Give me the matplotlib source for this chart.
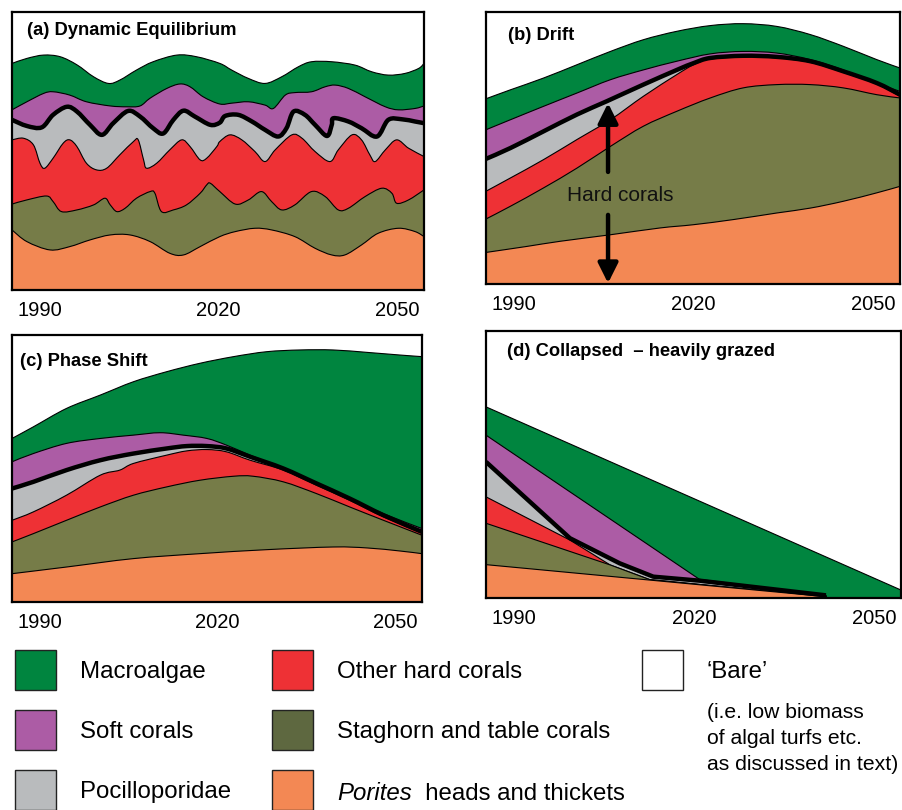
import numpy as np
import matplotlib
matplotlib.use('Agg')
import matplotlib.pyplot as plt
from matplotlib.patches import Rectangle, PathPatch
from matplotlib.path import Path

plt.rcParams['font.family'] = ['Liberation Sans', 'DejaVu Sans']

# ── data: cumulative cover (%) at the top of each layer, per year ──
YEARS_SHOWN = [1990, 2020, 2050]
X_RANGE = (1985.3, 2054.5)

LAYER_NAMES = ['Porites', 'Staghorn and table', 'Other hard corals',
               'Pocilloporidae', 'Soft corals', 'Macroalgae']

# (a) dynamic equilibrium
A_PORITES = [(1985.3, 21.6), (1987.8, 17.4), (1991.7, 14.4), (1995.0, 15.6), (1998.4, 18.0),
             (2001.8, 19.8), (2005.1, 19.8), (2008.5, 17.4), (2011.8, 13.2), (2014.1, 12.6),
             (2016.9, 15.6), (2020.2, 19.2), (2022.8, 21.0), (2026.1, 22.2), (2028.9, 21.6),
             (2032.8, 19.2), (2036.2, 15.0), (2039.0, 12.6), (2041.2, 12.6), (2044.0, 16.2),
             (2046.8, 20.4), (2050.2, 22.2), (2053.0, 21.0), (2054.5, 19.2)]
A_STAG = [(1985.3, 30.9), (1987.8, 32.4), (1991.1, 33.8), (1992.2, 31.8), (1993.6, 28.2),
          (1996.2, 28.8), (1999.0, 30.6), (2000.9, 33.0), (2001.8, 30.6), (2002.9, 28.2),
          (2004.3, 29.4), (2006.2, 33.0), (2008.5, 35.4), (2009.3, 34.8), (2010.4, 28.2),
          (2012.4, 28.8), (2014.6, 30.6), (2016.9, 34.8), (2018.0, 37.8), (2018.6, 38.4),
          (2020.2, 35.4), (2022.8, 30.9), (2025.0, 32.4), (2027.2, 35.4), (2028.9, 31.8),
          (2030.6, 28.8), (2032.8, 30.6), (2035.6, 35.4), (2037.9, 33.6), (2040.1, 28.8),
          (2041.8, 29.4), (2044.6, 33.6), (2047.4, 36.6), (2049.1, 34.8), (2049.9, 31.2),
          (2051.9, 32.4), (2054.5, 36.0)]
A_OTHER = [(1985.3, 54.0), (1987.2, 54.6), (1988.9, 52.2), (1990.0, 45.6), (1990.8, 43.8),
           (1992.2, 47.4), (1993.9, 52.8), (1995.0, 54.0), (1996.2, 51.6), (1997.8, 45.6),
           (1999.5, 43.2), (2001.2, 43.8), (2003.4, 48.6), (2005.7, 53.4), (2006.5, 54.0),
           (2007.4, 46.8), (2007.9, 43.8), (2009.6, 45.6), (2011.8, 50.4), (2013.8, 54.0),
           (2015.2, 51.6), (2016.9, 46.8), (2018.0, 47.4), (2019.7, 51.6), (2020.2, 53.4),
           (2021.9, 55.8), (2023.9, 54.0), (2026.1, 49.8), (2027.8, 46.2), (2029.5, 50.4),
           (2032.3, 55.8), (2034.0, 54.6), (2036.2, 49.8), (2038.7, 46.2), (2040.1, 50.4),
           (2042.4, 55.8), (2044.0, 54.0), (2045.4, 48.6), (2046.3, 46.2), (2048.0, 50.4),
           (2049.9, 54.0), (2051.9, 51.0), (2054.5, 48.0)]
A_POCILLO = [(1985.3, 61.2), (1987.8, 59.0), (1990.3, 58.5), (1992.2, 63.0), (1994.5, 65.9),
             (1996.2, 64.2), (1998.4, 59.4), (2000.4, 55.8), (2002.3, 60.0), (2004.8, 64.4),
             (2006.8, 62.4), (2009.0, 58.2), (2010.7, 56.3), (2012.4, 61.2), (2014.1, 64.5),
             (2016.0, 62.4), (2018.6, 59.4), (2020.2, 60.2), (2021.1, 62.6), (2023.3, 63.0),
             (2025.6, 60.6), (2027.8, 57.6), (2030.0, 55.2), (2031.4, 58.2), (2032.6, 64.2),
             (2034.5, 63.0), (2036.2, 59.4), (2038.2, 55.4), (2039.0, 59.4), (2039.3, 61.8),
             (2041.8, 60.6), (2044.0, 58.2), (2046.6, 55.2), (2048.5, 61.2), (2050.8, 61.4),
             (2053.0, 60.6), (2054.5, 60.0)]
A_SOFT = [(1985.3, 64.8), (1987.8, 67.7), (1990.6, 70.7), (1992.2, 71.3), (1995.0, 70.1),
          (1997.8, 67.7), (2001.8, 66.2), (2004.6, 65.9), (2006.8, 66.2), (2008.5, 69.0),
          (2011.3, 72.5), (2013.5, 74.1), (2015.2, 73.1), (2017.4, 69.5), (2020.2, 66.9),
          (2022.2, 67.2), (2025.0, 67.7), (2027.8, 66.5), (2029.2, 65.3), (2031.2, 70.1),
          (2032.8, 71.0), (2035.6, 71.3), (2037.9, 73.1), (2039.6, 73.7), (2041.8, 72.5),
          (2044.6, 69.5), (2048.0, 65.9), (2050.2, 64.8), (2053.0, 65.3), (2054.5, 66.2)]
A_MACRO = [(1985.3, 81.5), (1987.8, 83.3), (1990.6, 84.5), (1993.4, 83.9), (1996.2, 81.0),
           (1999.0, 76.7), (2001.5, 74.3), (2003.4, 75.5), (2006.2, 79.1), (2009.0, 82.1),
           (2013.0, 84.5), (2016.3, 83.9), (2020.2, 81.5), (2022.2, 79.1), (2025.0, 76.1),
           (2027.8, 74.3), (2030.6, 76.7), (2033.4, 80.3), (2035.6, 82.1), (2039.0, 82.1),
           (2042.9, 80.9), (2045.7, 78.5), (2048.5, 77.3), (2051.3, 77.9), (2053.6, 79.7),
           (2054.5, 81.5)]

# (b) drift
B_PORITES = [(1985.3, 11.6), (1992.1, 13.8), (1997.7, 15.7), (2006.1, 18.1), (2014.4, 20.6),
             (2020.0, 21.8), (2026.7, 23.7), (2033.9, 26.1), (2039.5, 27.9), (2045.0, 30.4),
             (2050.6, 33.5), (2054.5, 35.9)]
B_STAG = [(1985.3, 23.9), (1989.4, 28.6), (1994.9, 35.3), (2000.5, 42.6), (2006.1, 50.6),
          (2011.6, 58.0), (2017.2, 63.5), (2022.8, 68.4), (2028.3, 72.1), (2033.9, 73.3),
          (2039.5, 73.3), (2045.0, 72.1), (2050.6, 69.6), (2054.5, 68.4)]
B_OTHER = [(1985.3, 34.1), (1989.4, 39.0), (1994.9, 45.7), (2000.5, 53.1), (2006.1, 60.4),
           (2011.6, 69.0), (2017.2, 77.0), (2020.0, 80.6), (2022.8, 82.7), (2028.3, 83.5),
           (2033.9, 83.1), (2039.5, 81.5), (2045.0, 77.8), (2050.6, 73.5), (2054.5, 69.0)]
B_POCILLO = [(1985.3, 46.0), (1989.4, 50.0), (1994.9, 56.1), (2000.5, 62.3), (2005.5, 67.2),
             (2011.6, 73.3), (2017.2, 78.7), (2020.0, 81.2), (2022.8, 83.1), (2028.3, 83.9),
             (2033.9, 83.5), (2039.5, 81.9), (2045.0, 78.2), (2050.6, 73.9), (2054.5, 69.6)]
B_SOFT = [(1985.3, 56.7), (1989.4, 60.4), (1994.9, 65.3), (2000.5, 70.2), (2006.1, 75.1),
          (2011.6, 78.7), (2017.2, 81.9), (2022.8, 84.6), (2028.3, 85.5), (2033.9, 84.9),
          (2039.5, 82.5), (2045.0, 78.7), (2050.6, 73.9), (2054.5, 70.8)]
B_MACRO = [(1985.3, 68.1), (1989.4, 71.4), (1994.9, 75.7), (2000.5, 80.6), (2006.1, 85.5),
           (2011.6, 89.8), (2017.2, 92.9), (2022.8, 95.0), (2028.3, 95.7), (2033.9, 94.7),
           (2039.5, 91.7), (2045.0, 87.4), (2050.6, 82.5), (2054.5, 79.4)]

# (c) phase shift
C_PORITES = [(1985.3, 10.6), (1994.5, 13.1), (2005.8, 16.25), (2017.0, 18.1), (2028.3, 19.6),
             (2039.5, 20.6), (2045.2, 20.25), (2050.8, 19.1), (2054.5, 18.1)]
C_STAG = [(1985.3, 22.5), (1988.9, 25.6), (1994.5, 30.6), (2000.2, 35.6), (2005.8, 40.0),
          (2011.4, 43.1), (2017.0, 45.6), (2022.7, 47.1), (2026.0, 47.1), (2031.1, 45.0),
          (2036.7, 40.6), (2042.3, 35.6), (2048.0, 30.6), (2054.5, 25.0)]
C_OTHER = [(1985.3, 30.6), (1988.9, 33.75), (1994.5, 40.0), (2000.2, 47.5), (2003.5, 49.4),
           (2005.8, 51.9), (2011.4, 55.0), (2014.8, 56.6), (2018.2, 57.1), (2021.5, 56.25),
           (2025.5, 53.1), (2031.1, 49.4), (2036.7, 43.75), (2042.3, 38.1), (2048.0, 31.9),
           (2054.5, 25.9)]
C_POCILLO = [(1985.3, 42.5), (1988.9, 45.0), (1994.5, 49.4), (2000.2, 53.1), (2005.8, 55.6),
             (2011.4, 57.5), (2014.8, 58.4), (2018.2, 58.4), (2021.5, 57.5), (2025.5, 54.4),
             (2031.1, 50.0), (2036.7, 44.4), (2042.3, 38.75), (2048.0, 32.5), (2054.5, 26.25)]
C_SOFT = [(1985.3, 52.5), (1988.9, 55.6), (1994.5, 59.4), (2000.2, 61.25), (2005.8, 62.5),
          (2010.3, 63.4), (2014.2, 62.5), (2018.2, 61.25), (2021.5, 58.75), (2025.5, 55.0),
          (2031.1, 50.0), (2036.7, 44.4), (2042.3, 38.75), (2048.0, 33.1), (2054.5, 27.5)]
C_MACRO = [(1985.3, 61.25), (1988.9, 65.6), (1994.5, 72.5), (2000.2, 77.5), (2005.8, 82.5),
           (2011.4, 86.25), (2017.0, 89.4), (2022.7, 91.9), (2028.3, 93.75), (2033.9, 94.4),
           (2039.5, 94.4), (2045.2, 93.5), (2050.8, 92.5), (2054.5, 91.9)]

# (d) collapsed - heavily grazed
D_PORITES = [(1985.3, 12.5), (2042.0, 0.5)]
D_STAG = [(1985.3, 28.0), (2006.0, 12.4), (2012.6, 6.9), (2042.0, 0.5)]
D_OTHER = [(1985.3, 37.9), (1999.3, 21.7), (2006.0, 12.4), (2012.6, 6.9), (2042.0, 0.5)]
D_POCILLO = [(1985.3, 51.0), (1999.3, 22.4), (2007.6, 13.0), (2013.2, 8.0), (2020.9, 6.5),
             (2042.0, 1.0)]
D_SOFT = [(1985.3, 61.0), (2020.9, 7.0), (2042.0, 1.0)]
D_MACRO = [(1985.3, 71.6), (2054.5, 3.0)]

# ── styling ──
GREEN = '#00853F'
PURPLE = '#AC5CA5'
GREY = '#B9BBBD'
RED = '#EE3135'
OLIVE = '#767C48'
OLIVE_KEY = '#5E6840'
ORANGE = '#F38854'
LAYER_COLOURS = [ORANGE, OLIVE, RED, GREY, PURPLE, GREEN]   # bottom -> top


def curve(pts, smooth):
    """Vertices/codes running through the read points (Catmull-Rom bezier if smooth)."""
    p = np.array(pts, dtype=float)
    verts, codes = [p[0]], [Path.MOVETO]
    n = len(p)
    for i in range(n - 1):
        if smooth:
            p0, p1 = p[max(i - 1, 0)], p[i]
            p2, p3 = p[i + 1], p[min(i + 2, n - 1)]
            verts += [p1 + (p2 - p0) / 6, p2 - (p3 - p1) / 6, p2]
            codes += [Path.CURVE4] * 3
        else:
            verts.append(p[i + 1])
            codes.append(Path.LINETO)
    return verts, codes


def draw_panel(ax, tops, title, tx, ty, smooth=True):
    # paint from the top layer down, each filled from zero to its top
    for pts, colour in reversed(list(zip(tops, LAYER_COLOURS))):
        verts, codes = curve(pts, smooth)
        verts = verts + [(pts[-1][0], 0), (pts[0][0], 0), (0, 0)]
        codes = codes + [Path.LINETO, Path.LINETO, Path.CLOSEPOLY]
        ax.add_patch(PathPatch(Path(verts, codes), facecolor=colour,
                               edgecolor='black', linewidth=0.8, zorder=1))
    # total hard coral cover = top of Pocilloporidae
    verts, codes = curve(tops[3], smooth)
    ax.add_patch(PathPatch(Path(verts, codes), fill=False, edgecolor='black',
                           linewidth=3.2, joinstyle='round', zorder=2))

    ax.set_xlim(*X_RANGE)
    ax.set_ylim(0, 100)
    ax.set_xticks(YEARS_SHOWN)
    ax.set_xticklabels([str(v) for v in YEARS_SHOWN])
    ax.tick_params(axis='x', length=0, labelsize=14.5, pad=8)
    ax.set_yticks([])
    for s in ax.spines.values():
        s.set_linewidth(1.6)
    ax.text(tx, ty, title, transform=ax.transAxes, fontsize=13.2,
            weight='bold', ha='left', va='center')


fig = plt.figure(figsize=(9.02, 8.10), dpi=100)
ax_a = fig.add_axes([0.0133, 0.642, 0.4568, 0.3432])
ax_b = fig.add_axes([0.5388, 0.6494, 0.459, 0.3358])
ax_c = fig.add_axes([0.0133, 0.2568, 0.4545, 0.3296])
ax_d = fig.add_axes([0.5388, 0.2617, 0.4600, 0.3296])

draw_panel(ax_a, [A_PORITES, A_STAG, A_OTHER, A_POCILLO, A_SOFT, A_MACRO],
           '(a) Dynamic Equilibrium', 0.036, 0.935)
draw_panel(ax_b, [B_PORITES, B_STAG, B_OTHER, B_POCILLO, B_SOFT, B_MACRO],
           '(b) Drift', 0.053, 0.915)
draw_panel(ax_c, [C_PORITES, C_STAG, C_OTHER, C_POCILLO, C_SOFT, C_MACRO],
           '(c) Phase Shift', 0.02, 0.90)
draw_panel(ax_d, [D_PORITES, D_STAG, D_OTHER, D_POCILLO, D_SOFT, D_MACRO],
           '(d) Collapsed  \u2013 heavily grazed', 0.05, 0.925, smooth=False)

# "Hard corals" double arrow in (b)
arrow_style = '-|>,head_length=0.6,head_width=0.3'
ax_b.annotate('', xy=(2005.7, 66.5), xytext=(2005.7, 41.2),
              arrowprops=dict(arrowstyle=arrow_style, lw=3.2, color='black',
                              mutation_scale=20, shrinkA=0, shrinkB=0), zorder=3)
ax_b.annotate('', xy=(2005.7, 0.3), xytext=(2005.7, 25.4),
              arrowprops=dict(arrowstyle=arrow_style, lw=3.2, color='black',
                              mutation_scale=20, shrinkA=0, shrinkB=0), zorder=3)
ax_b.text(2007.8, 32.4, 'Hard corals', fontsize=15, ha='center', va='center',
          color='#111111', zorder=3)

# ── key ──
lg = fig.add_axes([0, 0, 1, 170 / 810])
lg.set_xlim(0, 902)
lg.set_ylim(810, 640)
lg.axis('off')

KEY = [
    (15, 650, GREEN, 'Macroalgae'),
    (15, 710, PURPLE, 'Soft corals'),
    (15, 770, GREY, 'Pocilloporidae'),
    (272, 650, RED, 'Other hard corals'),
    (272, 710, OLIVE_KEY, 'Staghorn and table corals'),
    (272, 770, ORANGE, None),
    (642, 650, 'white', '\u2018Bare\u2019'),
]
for x0, y0, colour, label in KEY:
    lg.add_patch(Rectangle((x0, y0), 41, 40, facecolor=colour,
                           edgecolor='#222222', linewidth=1.0, clip_on=False))
    if label:
        lg.text(x0 + 65, y0 + 22, label, fontsize=17.3, ha='left', va='center')

t_por = lg.text(272 + 65, 770 + 24, 'Porites', fontsize=17.3, style='italic',
                ha='left', va='center')
lg.annotate('  heads and thickets', xy=(1, 0.5), xycoords=t_por,
            fontsize=17.3, ha='left', va='center')

for i, line in enumerate(['(i.e. low biomass', 'of algal turfs etc.',
                          'as discussed in text)']):
    lg.text(707, 713 + 26 * i, line, fontsize=15.2, ha='left', va='center')

fig.savefig('out.png', dpi=100, facecolor='white')
